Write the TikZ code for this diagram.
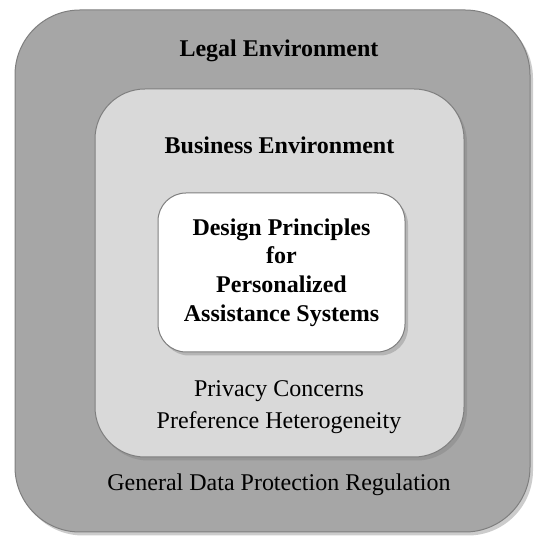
\documentclass[tikz,border=0pt]{standalone}
\usepackage{fontspec}
\setmainfont{Liberation Serif}
\usetikzlibrary{shadows}

\definecolor{legalgray}{HTML}{A6A6A6}
\definecolor{businessgray}{HTML}{D9D9D9}
\definecolor{rimgray}{HTML}{7F7F7F}

\tikzset{
  layer/.style={draw=rimgray, line width=1pt, rounded corners=#1,
    drop shadow={shadow xshift=3pt, shadow yshift=-3.5pt, opacity=.4}},
  heading/.style={font=\fontsize{24}{28.8}\selectfont\bfseries, align=center},
  plain/.style={font=\fontsize{24}{32}\selectfont, align=center},
}

\begin{document}
\begin{tikzpicture}[x=1pt, y=1pt]
  \useasboundingbox (0,0) rectangle (535,538);

  % nested environments, outermost first
  \node (legal) [layer=65pt, fill=legalgray,
    minimum width=515pt, minimum height=522pt] at (272.5,267) {};
  \node (business) [layer=50pt, fill=businessgray,
    minimum width=369pt, minimum height=368pt] at (279.5,265) {};
  \node (design) [layer=28pt, fill=white, heading,
    minimum width=247pt, minimum height=159pt] at (281.5,265.5)
    {Design Principles\\for\\Personalized\\Assistance Systems};

  % labels of the two outer layers
  \node (legaltitle)    [heading] at (279,487) {Legal Environment};
  \node (businesstitle) [heading] at (279.5,393) {Business Environment};
  \node (concerns)      [plain]   at (279,131)
    {Privacy Concerns\\Preference Heterogeneity};
  \node (gdpr)          [plain]   at (279,53) {General Data Protection Regulation};
\end{tikzpicture}
\end{document}
